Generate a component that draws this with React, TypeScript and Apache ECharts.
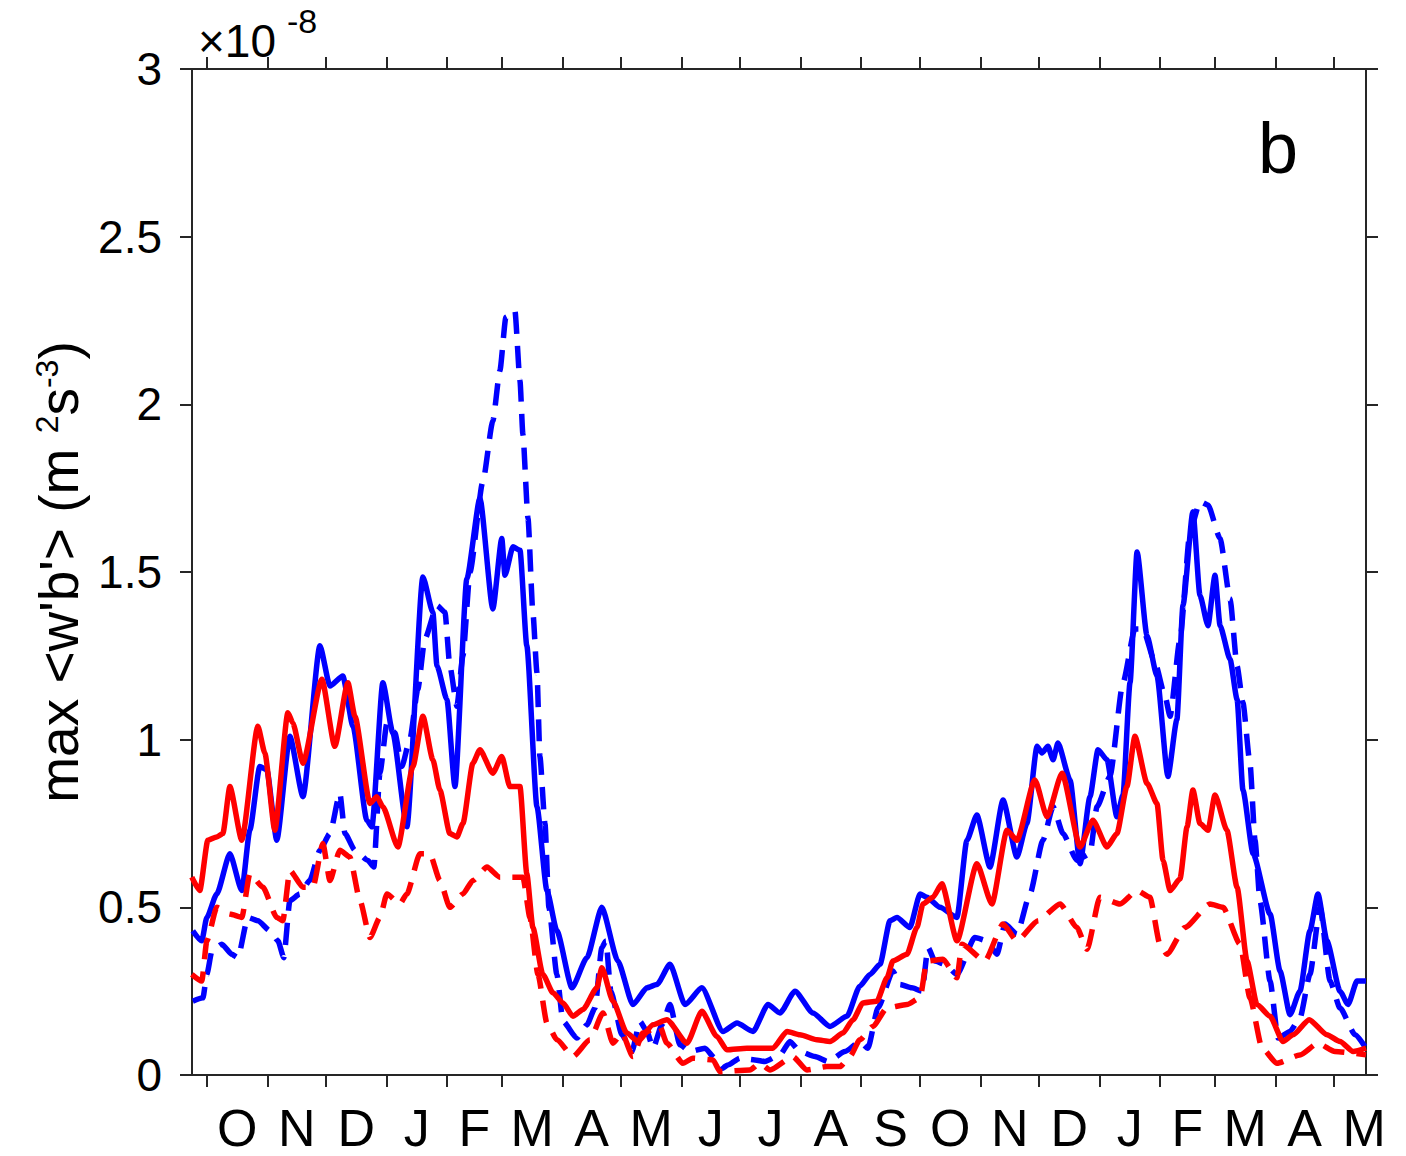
import React, { useEffect, useRef } from "react";
import * as echarts from "echarts";

// x is in days since 1 October of the first year
const monthLetters = ["O", "N", "D", "J", "F", "M", "A", "M", "J", "J", "A", "S", "O", "N", "D", "J", "F", "M", "A", "M"];
const monthStartDays = [0, 31, 61, 92, 123, 151, 182, 212, 243, 273, 304, 335, 365, 396, 426, 457, 488, 516, 547, 577];
const monthLengths = [31, 30, 31, 31, 28, 31, 30, 31, 30, 31, 31, 30, 31, 30, 31, 31, 28, 31, 30, 31];
const xStartDay = -7.6;
const xEndDay = 593.4;
const yTickValues = [0, 0.5, 1, 1.5, 2, 2.5, 3];

const blueSolid = [
  [-7.2, 0.43], [-2.6, 0.40], [0, 0.47], [5.1, 0.54], [11.8, 0.66], [17.9, 0.55], [22.0, 0.73], [27.1, 0.92],
  [30.7, 0.91], [35.8, 0.70], [42.5, 1.01], [49.2, 0.83], [57.9, 1.28], [63.0, 1.16], [69.6, 1.19], [74.8, 1.04],
  [81.9, 0.76], [84.5, 0.74], [90.1, 1.17], [95.2, 1.02], [102.4, 0.74], [110.6, 1.485], [115.7, 1.38], [117.8, 1.22],
  [122.9, 1.12], [127.0, 0.86], [133.1, 1.48], [139.8, 1.72], [146.4, 1.39], [151.0, 1.60], [152.6, 1.49], [156.7, 1.575],
  [160.3, 1.565], [163.8, 1.28], [169.0, 0.80], [174.1, 0.55], [179.2, 0.43], [186.9, 0.26], [194.6, 0.35], [202.2, 0.50],
  [210.4, 0.34], [218.1, 0.21], [225.3, 0.26], [230.4, 0.27], [237.1, 0.33], [244.8, 0.21], [253.4, 0.26], [264.2, 0.13],
  [271.4, 0.155], [279.6, 0.13], [287.3, 0.21], [293.4, 0.185], [301.1, 0.25], [310.3, 0.185], [319.0, 0.145], [327.7, 0.175],
  [334.3, 0.265], [339.5, 0.30], [344.6, 0.33], [349.7, 0.46], [353.3, 0.47], [359.9, 0.44], [365.1, 0.54], [368.6, 0.53],
  [375.3, 0.50], [384.0, 0.47], [389.1, 0.70], [394.2, 0.775], [400.9, 0.62], [407.6, 0.82], [414.7, 0.65], [419.8, 0.75],
  [425.0, 0.98], [427.5, 0.96], [430.6, 0.98], [433.2, 0.94], [435.7, 0.99], [441.9, 0.88], [447.0, 0.63], [452.1, 0.83],
  [456.2, 0.97], [460.8, 0.94], [465.9, 0.77], [469.0, 0.835], [472.6, 1.17], [476.2, 1.56], [481.3, 1.31], [486.4, 1.19],
  [492.0, 0.89], [496.6, 1.06], [499.7, 1.40], [504.8, 1.68], [508.4, 1.43], [512.5, 1.34], [516.1, 1.49], [518.7, 1.34],
  [523.8, 1.24], [527.4, 1.12], [530.4, 0.85], [535.6, 0.66], [544.3, 0.48], [549.4, 0.31], [554.5, 0.18], [559.6, 0.25],
  [564.7, 0.43], [568.8, 0.54], [573.4, 0.40], [580.1, 0.25], [584.2, 0.21], [588.8, 0.28], [593.4, 0.28],
];

const blueDashed = [
  [-7.2, 0.22], [-2.0, 0.23], [0, 0.30], [2.6, 0.37], [7.7, 0.39], [12.8, 0.36], [15.9, 0.35], [21.0, 0.47],
  [26.1, 0.46], [32.3, 0.43], [36.4, 0.40], [39.4, 0.35], [42.5, 0.52], [47.6, 0.54], [52.7, 0.58], [57.9, 0.67],
  [63.0, 0.72], [68.1, 0.84], [70.7, 0.72], [75.8, 0.67], [82.4, 0.64], [85.5, 0.62], [88.6, 0.90], [92.2, 1.05],
  [96.3, 1.02], [99.8, 0.92], [103.9, 1.00], [108.0, 1.15], [111.6, 1.30], [117.8, 1.40], [121.9, 1.38], [124.4, 1.22],
  [128.0, 1.10], [131.1, 1.25], [134.7, 1.50], [141.3, 1.77], [146.4, 1.95], [150.0, 2.10], [153.1, 2.26], [157.7, 2.28],
  [160.3, 2.07], [161.8, 1.91], [164.4, 1.66], [166.9, 1.38], [169.0, 1.20], [170.5, 0.95], [173.1, 0.75], [175.1, 0.50],
  [179.2, 0.30], [182.3, 0.16], [189.4, 0.11], [194.6, 0.15], [198.7, 0.20], [202.2, 0.38], [204.3, 0.40], [206.8, 0.25],
  [212.5, 0.12], [217.6, 0.07], [221.7, 0.16], [225.3, 0.13], [228.4, 0.08], [233.0, 0.15], [237.1, 0.21], [242.2, 0.09],
  [247.3, 0.07], [255.0, 0.08], [260.1, 0.05], [263.7, 0.02], [266.8, 0.03], [272.9, 0.05], [280.6, 0.045], [285.7, 0.04],
  [293.4, 0.06], [298.5, 0.10], [303.6, 0.07], [311.3, 0.055], [318.0, 0.04], [326.7, 0.07], [334.3, 0.10], [338.4, 0.08],
  [343.6, 0.20], [351.2, 0.31], [354.8, 0.27], [360.9, 0.26], [366.1, 0.25], [369.2, 0.38], [372.7, 0.34], [377.9, 0.33],
  [384.0, 0.30], [393.2, 0.41], [399.4, 0.40], [404.5, 0.36], [408.6, 0.45], [414.7, 0.42], [421.4, 0.54], [428.0, 0.70],
  [433.2, 0.80], [438.3, 0.72], [445.4, 0.64], [452.1, 0.66], [455.7, 0.80], [462.3, 0.89], [469.0, 1.17], [475.1, 1.33],
  [479.2, 1.33], [485.4, 1.23], [490.5, 1.13], [493.1, 1.07], [498.2, 1.30], [503.3, 1.62], [508.4, 1.71], [512.5, 1.70],
  [518.7, 1.60], [523.8, 1.42], [527.4, 1.22], [530.4, 1.11], [534.0, 0.93], [536.6, 0.70], [539.1, 0.52], [544.3, 0.28],
  [548.4, 0.11], [554.5, 0.13], [559.6, 0.17], [564.7, 0.30], [569.9, 0.50], [575.0, 0.28], [580.1, 0.20], [587.8, 0.12],
  [593.4, 0.08],
];

const redSolid = [
  [-7.7, 0.59], [-3.6, 0.55], [0.5, 0.70], [5.1, 0.71], [8.2, 0.72], [11.8, 0.86], [17.9, 0.70], [26.1, 1.04],
  [29.7, 0.96], [34.8, 0.73], [41.5, 1.08], [44.0, 1.05], [49.2, 0.93], [58.9, 1.18], [65.5, 0.98], [72.2, 1.17],
  [75.8, 1.07], [83.5, 0.81], [87.0, 0.83], [90.1, 0.80], [97.8, 0.68], [105.5, 0.92], [110.6, 1.07], [115.7, 0.94],
  [119.3, 0.85], [124.4, 0.72], [128.0, 0.71], [131.1, 0.75], [136.2, 0.93], [139.8, 0.97], [146.4, 0.90], [151.0, 0.95],
  [155.1, 0.86], [160.3, 0.86], [163.8, 0.60], [166.9, 0.44], [172.0, 0.30], [177.2, 0.245], [182.3, 0.215], [187.4, 0.175],
  [192.5, 0.195], [199.7, 0.26], [202.2, 0.32], [207.9, 0.22], [215.0, 0.125], [220.7, 0.10], [228.4, 0.15], [235.5, 0.165],
  [245.8, 0.095], [253.4, 0.19], [261.1, 0.115], [266.2, 0.075], [276.5, 0.08], [289.8, 0.08], [297.0, 0.13], [303.6, 0.12],
  [312.3, 0.105], [319.0, 0.10], [325.6, 0.125], [330.8, 0.165], [335.9, 0.215], [343.0, 0.22], [348.2, 0.29], [351.2, 0.34],
  [358.4, 0.36], [363.5, 0.44], [366.6, 0.51], [371.7, 0.53], [376.3, 0.57], [384.0, 0.40], [394.2, 0.63], [401.9, 0.51],
  [409.6, 0.73], [414.7, 0.70], [423.9, 0.88], [430.1, 0.77], [437.8, 0.90], [447.0, 0.68], [453.6, 0.76], [460.8, 0.68],
  [465.9, 0.72], [471.0, 0.86], [475.1, 1.01], [481.3, 0.87], [486.4, 0.81], [489.5, 0.64], [493.1, 0.55], [498.2, 0.585],
  [501.8, 0.74], [504.8, 0.85], [508.4, 0.75], [512.5, 0.73], [516.1, 0.835], [522.2, 0.73], [527.4, 0.56], [532.5, 0.34],
  [537.6, 0.21], [544.3, 0.175], [550.9, 0.10], [556.1, 0.12], [564.3, 0.165], [573.4, 0.12], [580.1, 0.10], [586.8, 0.07],
  [593.4, 0.08],
];

const redDashed = [
  [-7.7, 0.30], [-2.6, 0.28], [0, 0.40], [5.1, 0.50], [11.8, 0.48], [17.9, 0.47], [22.0, 0.60], [28.7, 0.56],
  [35.8, 0.47], [38.9, 0.46], [42.5, 0.61], [49.2, 0.56], [54.3, 0.56], [59.4, 0.69], [63.0, 0.58], [68.1, 0.67],
  [73.2, 0.65], [78.4, 0.52], [83.5, 0.41], [88.6, 0.47], [92.2, 0.54], [98.8, 0.51], [102.4, 0.54], [109.1, 0.66],
  [114.2, 0.66], [119.3, 0.58], [124.4, 0.50], [131.1, 0.54], [136.2, 0.58], [143.4, 0.62], [150.0, 0.59], [161.8, 0.59],
  [165.4, 0.47], [169.5, 0.30], [174.1, 0.155], [179.2, 0.105], [187.4, 0.055], [196.1, 0.105], [202.8, 0.185], [207.9, 0.095],
  [212.5, 0.125], [218.1, 0.055], [223.2, 0.125], [231.9, 0.145], [235.5, 0.095], [243.7, 0.035], [248.8, 0.05], [259.1, 0.045],
  [262.7, 0.01], [278.0, 0.015], [283.1, 0.035], [288.3, 0.015], [300.0, 0.055], [307.2, 0.015], [317.4, 0.025], [324.1, 0.025],
  [329.2, 0.055], [334.3, 0.105], [341.0, 0.145], [348.2, 0.20], [358.4, 0.21], [365.1, 0.23], [368.6, 0.34], [376.8, 0.345],
  [384.0, 0.29], [386.6, 0.39], [398.3, 0.34], [407.6, 0.45], [414.7, 0.40], [425.5, 0.46], [436.8, 0.51], [445.4, 0.44],
  [450.6, 0.375], [457.2, 0.53], [467.5, 0.51], [476.2, 0.55], [482.8, 0.53], [487.9, 0.39], [491.5, 0.36], [500.7, 0.44],
  [513.5, 0.51], [520.2, 0.50], [528.9, 0.39], [534.0, 0.23], [540.2, 0.08], [547.8, 0.035], [559.6, 0.06], [568.8, 0.095],
  [577.5, 0.07], [593.4, 0.06],
];

const FONT = "'Liberation Sans', Arial, Helvetica, sans-serif";
const AXIS_COLOR = "#262626";

const monthMidDays = monthStartDays.map((s, i) => s + monthLengths[i] / 2);

function monthLetterAt(v: number): string {
  let best = 0;
  let bestD = Infinity;
  monthMidDays.forEach((m, i) => {
    const d = Math.abs(m - v);
    if (d < bestD) {
      bestD = d;
      best = i;
    }
  });
  return monthLetters[best];
}

export default function App() {
  const ref = useRef<HTMLDivElement>(null);

  useEffect(() => {
    if (!ref.current) return;
    const chart = echarts.init(ref.current, undefined, { renderer: "svg" });

    const tickStyle = { show: true, inside: false, length: 12, lineStyle: { color: AXIS_COLOR, width: 2 } };
    const lineStyle = { show: true, onZero: false, lineStyle: { color: AXIS_COLOR, width: 2 } };

    const mk = (name: string, data: number[][], color: string, dashed: boolean) => ({
      name,
      type: "line",
      data,
      showSymbol: false,
      symbol: "none",
      smooth: 0.2,
      smoothMonotone: "x",
      clip: true,
      lineStyle: { color, width: 5.5, type: dashed ? [22, 12] : "solid", cap: "butt", join: "round" },
      z: 3,
    });

    chart.setOption({
      animation: false,
      backgroundColor: "#ffffff",
      grid: { left: 192, right: 40, top: 69, bottom: 81, containLabel: false },
      xAxis: [
        {
          type: "value",
          position: "bottom",
          min: xStartDay,
          max: xEndDay,
          axisLine: lineStyle,
          axisTick: { ...tickStyle, customValues: monthStartDays },
          axisLabel: {
            customValues: monthMidDays,
            formatter: (v: number) => monthLetterAt(v),
            fontSize: 52,
            lineHeight: 44,
            fontFamily: FONT,
            color: "#000000",
            margin: 31,
          },
          splitLine: { show: false },
        },
        {
          type: "value",
          position: "top",
          min: xStartDay,
          max: xEndDay,
          axisLine: lineStyle,
          axisTick: { ...tickStyle, customValues: monthStartDays },
          axisLabel: { show: false },
          splitLine: { show: false },
        },
      ],
      yAxis: [
        {
          type: "value",
          position: "left",
          min: 0,
          max: 3,
          interval: 0.5,
          axisLine: lineStyle,
          axisTick: { ...tickStyle, customValues: yTickValues },
          axisLabel: {
            customValues: yTickValues,
            formatter: (v: number) => String(v),
            fontSize: 46,
            fontFamily: FONT,
            color: "#000000",
            margin: 30,
          },
          splitLine: { show: false },
          name: "{t|max <w'b'> (m }{s|2}{t|s}{s|-3}{t|)}",
          nameLocation: "middle",
          nameRotate: 90,
          nameGap: 106,
          nameMoveOverlap: false,
          nameTextStyle: {
            fontFamily: FONT,
            color: "#000000",
            rich: {
              t: { fontSize: 55, lineHeight: 55, fontFamily: FONT, color: "#000000", verticalAlign: "bottom" },
              s: { fontSize: 32, lineHeight: 32, fontFamily: FONT, color: "#000000", verticalAlign: "top", padding: [0, 0, 54, 0] },
            },
          },
        },
        {
          type: "value",
          position: "right",
          min: 0,
          max: 3,
          interval: 0.5,
          axisLine: lineStyle,
          axisTick: { ...tickStyle, customValues: yTickValues },
          axisLabel: { show: false },
          splitLine: { show: false },
        },
      ],
      graphic: [
        {
          type: "text",
          left: 198,
          top: 18,
          style: { text: "×10", fontSize: 46, fontFamily: FONT, fill: "#000000" },
        },
        {
          type: "text",
          left: 287,
          top: 4,
          style: { text: "-8", fontSize: 34, fontFamily: FONT, fill: "#000000" },
        },
        {
          type: "text",
          left: 1258,
          top: 112,
          style: { text: "b", fontSize: 72, fontFamily: FONT, fill: "#000000" },
        },
      ],
      series: [
        mk("blue solid", blueSolid, "#0000ff", false),
        mk("blue dashed", blueDashed, "#0000ff", true),
        mk("red solid", redSolid, "#ff0000", false),
        mk("red dashed", redDashed, "#ff0000", true),
      ],
    });

    return () => chart.dispose();
  }, []);

  return (
    <div
      ref={ref}
      style={{ position: "fixed", left: 0, top: 0, width: 1406, height: 1156, background: "#ffffff" }}
    />
  );
}
